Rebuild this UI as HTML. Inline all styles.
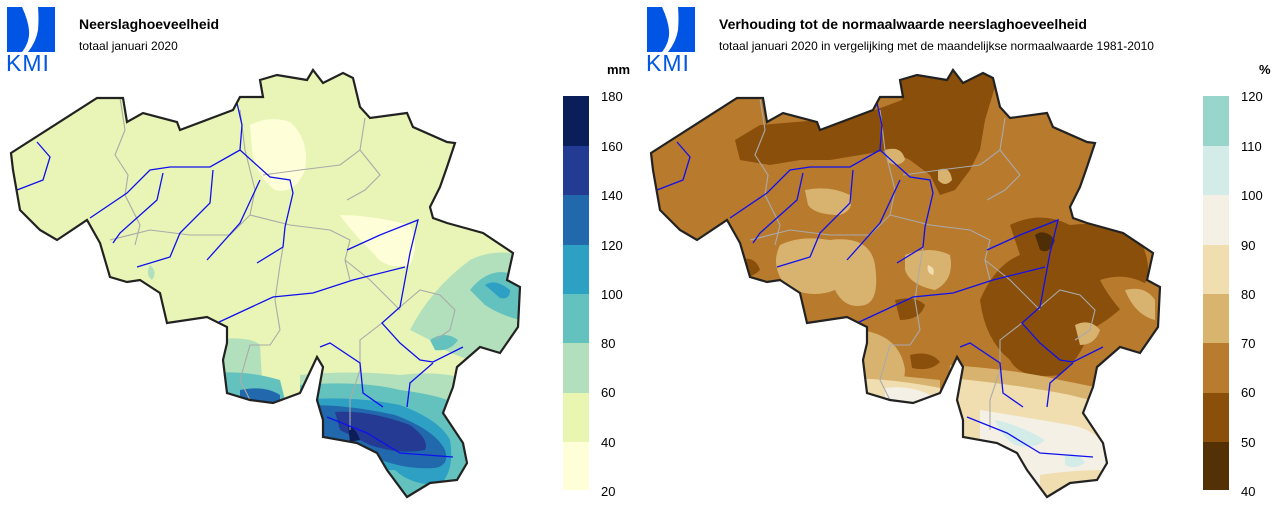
<!DOCTYPE html>
<html><head><meta charset="utf-8"><style>
body{margin:0;background:#fff;width:1280px;height:507px;overflow:hidden;font-family:"Liberation Sans",sans-serif}
svg{position:absolute;left:0;top:0}
</style></head><body>
<svg width="1280" height="507" viewBox="0 0 1280 507" xmlns="http://www.w3.org/2000/svg">
<defs>
<path id="be" d="M11,153 L97,98 L123,98 L127,122 L143,113 L177,122 L180,130 L233,110 L240,97 L263,97 L260,80 L277,75 L307,80 L313,70 L323,83 L343,73 L353,78 L360,107 L370,118 L407,113 L413,127 L447,142 L455,143 L447,167 L440,187 L430,207 L433,218 L447,223 L483,233 L513,253 L507,280 L520,287 L518,327 L500,353 L480,347 L457,367 L453,387 L443,413 L463,443 L467,463 L457,480 L430,483 L407,497 L387,470 L377,453 L357,443 L323,437 L323,420 L317,400 L323,367 L317,357 L300,393 L273,403 L250,400 L227,393 L223,360 L227,343 L227,327 L207,317 L167,323 L160,293 L140,280 L127,282 L110,277 L100,243 L87,220 L57,240 L40,230 L20,210 L13,170 Z"/>
<clipPath id="cp"><use href="#be"/></clipPath>
<g id="rivers" fill="none" stroke="#1010ee" stroke-width="1.3">
<polyline points="347,250 380,235 418,220 410,253 405,280 400,307 382,323 400,343 420,360 433,362 463,347"/>
<polyline points="217,323 245,310 273,297 313,293 353,280 405,267"/>
<polyline points="237,103 242,125 240,150 270,177 290,180 293,193 285,227 283,247 257,263"/>
<polyline points="37,142 50,157 43,180 17,190"/>
<polyline points="90,218 127,193 150,170 170,167 210,167 240,150"/>
<polyline points="137,267 170,257 180,233 210,203 213,170"/>
<polyline points="113,243 120,233 157,200 163,173"/>
<polyline points="207,260 240,223 260,180"/>
<polyline points="320,347 330,343 360,363 363,393 383,407"/>
<polyline points="327,417 367,433 400,453 453,457"/>
<polyline points="407,407 410,383 433,363"/>
</g>
<g id="prov" fill="none" stroke="#aaaaaa" stroke-width="1.1">
<polyline points="120,98 125,130 115,155 128,175 125,195 140,225 135,245"/>
<polyline points="240,110 245,150 255,190 250,215 230,235 190,235 150,230 110,240"/>
<polyline points="263,175 300,170 340,165 360,150 365,118"/>
<polyline points="250,215 290,225 330,230 350,240 345,260 350,280"/>
<polyline points="283,247 280,265 275,300 280,330 270,345 250,345 240,380 250,400"/>
<polyline points="345,260 370,280 390,300 400,310"/>
<polyline points="400,307 420,290 440,295 455,310 450,330 435,340"/>
<polyline points="382,323 360,340 360,370 350,400 350,430"/>
<polyline points="347,200 365,190 380,175 360,150"/>
</g>
</defs>

<!-- LEFT MAP -->
<g clip-path="url(#cp)">
<rect x="0" y="60" width="540" height="450" fill="#e8f5b6"/>
<path d="M250,125 Q270,115 290,122 Q310,140 305,170 Q295,195 275,190 Q255,175 252,150 Z" fill="#fefed9"/>
<path d="M340,215 Q370,215 410,225 Q420,245 410,265 Q385,270 375,255 Q350,230 340,215 Z" fill="#fefed9"/>
<path d="M150,265 Q158,272 152,280 Q145,275 150,265Z" fill="#b2e0bc"/>
<path d="M410,330 Q430,290 470,260 Q500,245 540,260 L540,360 Q500,370 470,360 Q440,350 430,340 Z" fill="#b2e0bc"/>
<path d="M470,290 Q490,265 515,275 Q530,300 520,320 Q500,315 485,305 Z" fill="#63c2bd"/>
<path d="M485,285 Q495,278 510,290 Q510,300 500,298 Z" fill="#2da0c4"/>
<path d="M430,340 Q445,330 458,340 Q450,352 435,350 Z" fill="#63c2bd"/>
<path d="M210,340 Q250,335 260,345 L262,380 L230,390 L200,380 Z" fill="#b2e0bc"/>
<path d="M200,375 Q240,368 280,380 L290,420 L200,420 Z" fill="#63c2bd"/>
<path d="M240,390 Q265,385 280,395 L280,410 L240,410 Z" fill="#2168ad"/>
<path d="M300,375 Q350,370 400,375 Q440,370 470,380 L480,420 L300,420 Z" fill="#b2e0bc"/>
<path d="M300,385 Q360,380 400,390 Q440,395 460,405 L470,510 L300,510 Z" fill="#63c2bd"/>
<path d="M300,400 Q350,395 400,405 Q440,420 450,440 Q455,470 440,485 Q410,485 395,470 L300,470 Z" fill="#2da0c4"/>
<path d="M310,405 Q350,405 395,415 Q435,430 445,450 Q450,465 435,468 Q400,470 370,455 L320,440 Z" fill="#2168ad"/>
<path d="M335,412 Q370,410 410,425 Q430,440 425,450 Q400,455 370,445 L340,430 Z" fill="#243a93"/>
<path d="M348,425 Q356,428 360,440 L350,442 Z" fill="#0c1d57"/>
</g>
<use href="#prov"/>
<use href="#rivers"/>
<use href="#be" fill="none" stroke="#222" stroke-width="2.2"/>

<!-- RIGHT MAP -->
<g transform="translate(640,0)">
<g clip-path="url(#cp)">
<rect x="0" y="60" width="540" height="450" fill="#b87a2d"/>
<path d="M260,70 L360,70 L345,120 L340,150 L330,170 L315,190 L300,195 L290,175 L270,160 L250,150 L220,155 L190,160 L160,160 L130,165 L100,160 L95,140 L120,125 L180,120 L235,110 L262,100 Z" fill="#8a4f0a"/>
<path d="M370,225 Q400,210 430,225 Q470,220 500,240 Q520,280 490,300 Q470,320 450,330 Q440,360 420,375 Q380,380 370,360 Q345,340 340,300 Q355,265 380,255 Z" fill="#8a4f0a"/>
<path d="M395,235 Q405,228 415,240 Q410,255 400,250 Z" fill="#4d2e06"/>
<path d="M460,280 Q490,270 515,290 L520,340 Q500,345 490,320 Q470,300 460,280Z" fill="#b87a2d"/>
<path d="M485,290 Q505,285 515,300 L515,320 Q495,315 485,290Z" fill="#d8b36f"/>
<path d="M435,325 Q450,318 460,330 Q455,345 440,345 Z" fill="#d8b36f"/>
<path d="M255,300 Q275,295 285,305 Q280,320 260,320 Z" fill="#8a4f0a"/>
<path d="M165,190 Q190,185 210,195 Q215,210 200,215 Q175,215 168,205 Z" fill="#d8b36f"/>
<path d="M140,245 Q160,235 190,240 Q230,235 235,265 Q240,300 225,305 Q205,310 195,290 Q170,300 145,285 Q130,265 140,245 Z" fill="#d8b36f"/>
<path d="M265,255 Q290,245 310,255 Q315,280 295,290 Q270,285 265,270 Z" fill="#d8b36f"/>
<path d="M288,265 Q296,268 293,275 Q286,273 288,265Z" fill="#f0deb0"/>
<path d="M298,170 Q310,165 312,180 Q305,188 298,180Z" fill="#d8b36f"/>
<path d="M245,150 Q262,145 265,160 Q258,168 248,162Z" fill="#d8b36f"/>
<path d="M100,260 Q115,255 120,270 Q110,280 100,275Z" fill="#8a4f0a"/>
<path d="M270,355 Q290,350 300,362 Q290,372 272,368Z" fill="#8a4f0a"/>
<path d="M220,330 Q260,335 265,370 L260,420 L200,420 Z" fill="#d8b36f"/>
<path d="M200,370 Q250,375 300,380 L300,420 L200,420 Z" fill="#d8b36f"/>
<path d="M200,378 Q250,378 300,388 L300,420 L200,420 Z" fill="#f0deb0"/>
<path d="M245,388 Q270,385 290,395 L280,420 L245,420 Z" fill="#f5f0e6"/>
<path d="M310,365 Q380,370 420,380 L470,390 L470,510 L300,510 Z" fill="#d8b36f"/>
<path d="M310,378 Q380,385 430,395 L470,405 L470,510 L300,510 Z" fill="#f0deb0"/>
<path d="M340,410 Q390,418 430,425 Q460,430 470,455 L470,510 L340,510 Z" fill="#f5f0e6"/>
<path d="M355,420 Q380,425 405,440 Q395,450 375,445 Q360,435 355,420Z" fill="#d3ece8"/>
<path d="M425,455 Q440,452 445,463 Q435,470 425,465Z" fill="#d3ece8"/>
<path d="M400,475 Q430,470 470,470 L470,510 L400,510 Z" fill="#f0deb0"/>
</g>
<use href="#prov"/>
<use href="#rivers"/>
<use href="#be" fill="none" stroke="#222" stroke-width="2.2"/>
</g>

<!-- LOGOS -->
<g id="logo">
<path d="M7,7 L22,7 Q28,20 29,30 Q30,42 22,52 L7,52 Z" fill="#0055e5"/>
<path d="M38,7 L55,7 L55,52 L28,52 Q36,42 38,30 Q39,18 38,7 Z" fill="#0055e5"/>
<text x="6" y="71" font-size="23" fill="#0055e5" font-family="Liberation Sans, sans-serif" letter-spacing="1">KMI</text>
</g>
<use href="#logo" x="640"/>

<text x="79" y="29" font-size="14" font-weight="bold" fill="#000">Neerslaghoeveelheid</text>
<text x="79" y="50" font-size="12" fill="#000">totaal januari 2020</text>
<text x="719" y="29" font-size="14" font-weight="bold" fill="#000">Verhouding tot de normaalwaarde neerslaghoeveelheid</text>
<text x="719" y="50" font-size="12" fill="#000">totaal januari 2020 in vergelijking met de maandelijkse normaalwaarde 1981-2010</text>

<!-- left colorbar -->
<rect x="563" y="96" width="26" height="50" fill="#0a1e59"/>
<rect x="563" y="146" width="26" height="49" fill="#233b93"/>
<rect x="563" y="195" width="26" height="50" fill="#2168ad"/>
<rect x="563" y="245" width="26" height="49" fill="#2ca1c4"/>
<rect x="563" y="294" width="26" height="49" fill="#63c2bd"/>
<rect x="563" y="343" width="26" height="50" fill="#b2e0bc"/>
<rect x="563" y="393" width="26" height="49" fill="#e8f6b2"/>
<rect x="563" y="442" width="26" height="48" fill="#fefed9"/>
<g font-size="13" fill="#000">
<text x="607" y="74" font-weight="bold">mm</text>
<text x="601" y="101">180</text><text x="601" y="151">160</text><text x="601" y="200">140</text>
<text x="601" y="250">120</text><text x="601" y="299">100</text><text x="601" y="348">80</text>
<text x="601" y="397">60</text><text x="601" y="447">40</text><text x="601" y="496">20</text>
</g>
<!-- right colorbar -->
<rect x="1203" y="96" width="26" height="50" fill="#98d6cc"/>
<rect x="1203" y="146" width="26" height="49" fill="#d3ece8"/>
<rect x="1203" y="195" width="26" height="50" fill="#f5f0e6"/>
<rect x="1203" y="245" width="26" height="49" fill="#f0deb0"/>
<rect x="1203" y="294" width="26" height="49" fill="#d8b46f"/>
<rect x="1203" y="343" width="26" height="50" fill="#b97b2e"/>
<rect x="1203" y="393" width="26" height="49" fill="#8a4f0a"/>
<rect x="1203" y="442" width="26" height="48" fill="#533104"/>
<g font-size="13" fill="#000">
<text x="1259" y="74" font-weight="bold">%</text>
<text x="1241" y="101">120</text><text x="1241" y="151">110</text><text x="1241" y="200">100</text>
<text x="1241" y="250">90</text><text x="1241" y="299">80</text><text x="1241" y="348">70</text>
<text x="1241" y="397">60</text><text x="1241" y="447">50</text><text x="1241" y="496">40</text>
</g>
</svg>
</body></html>
